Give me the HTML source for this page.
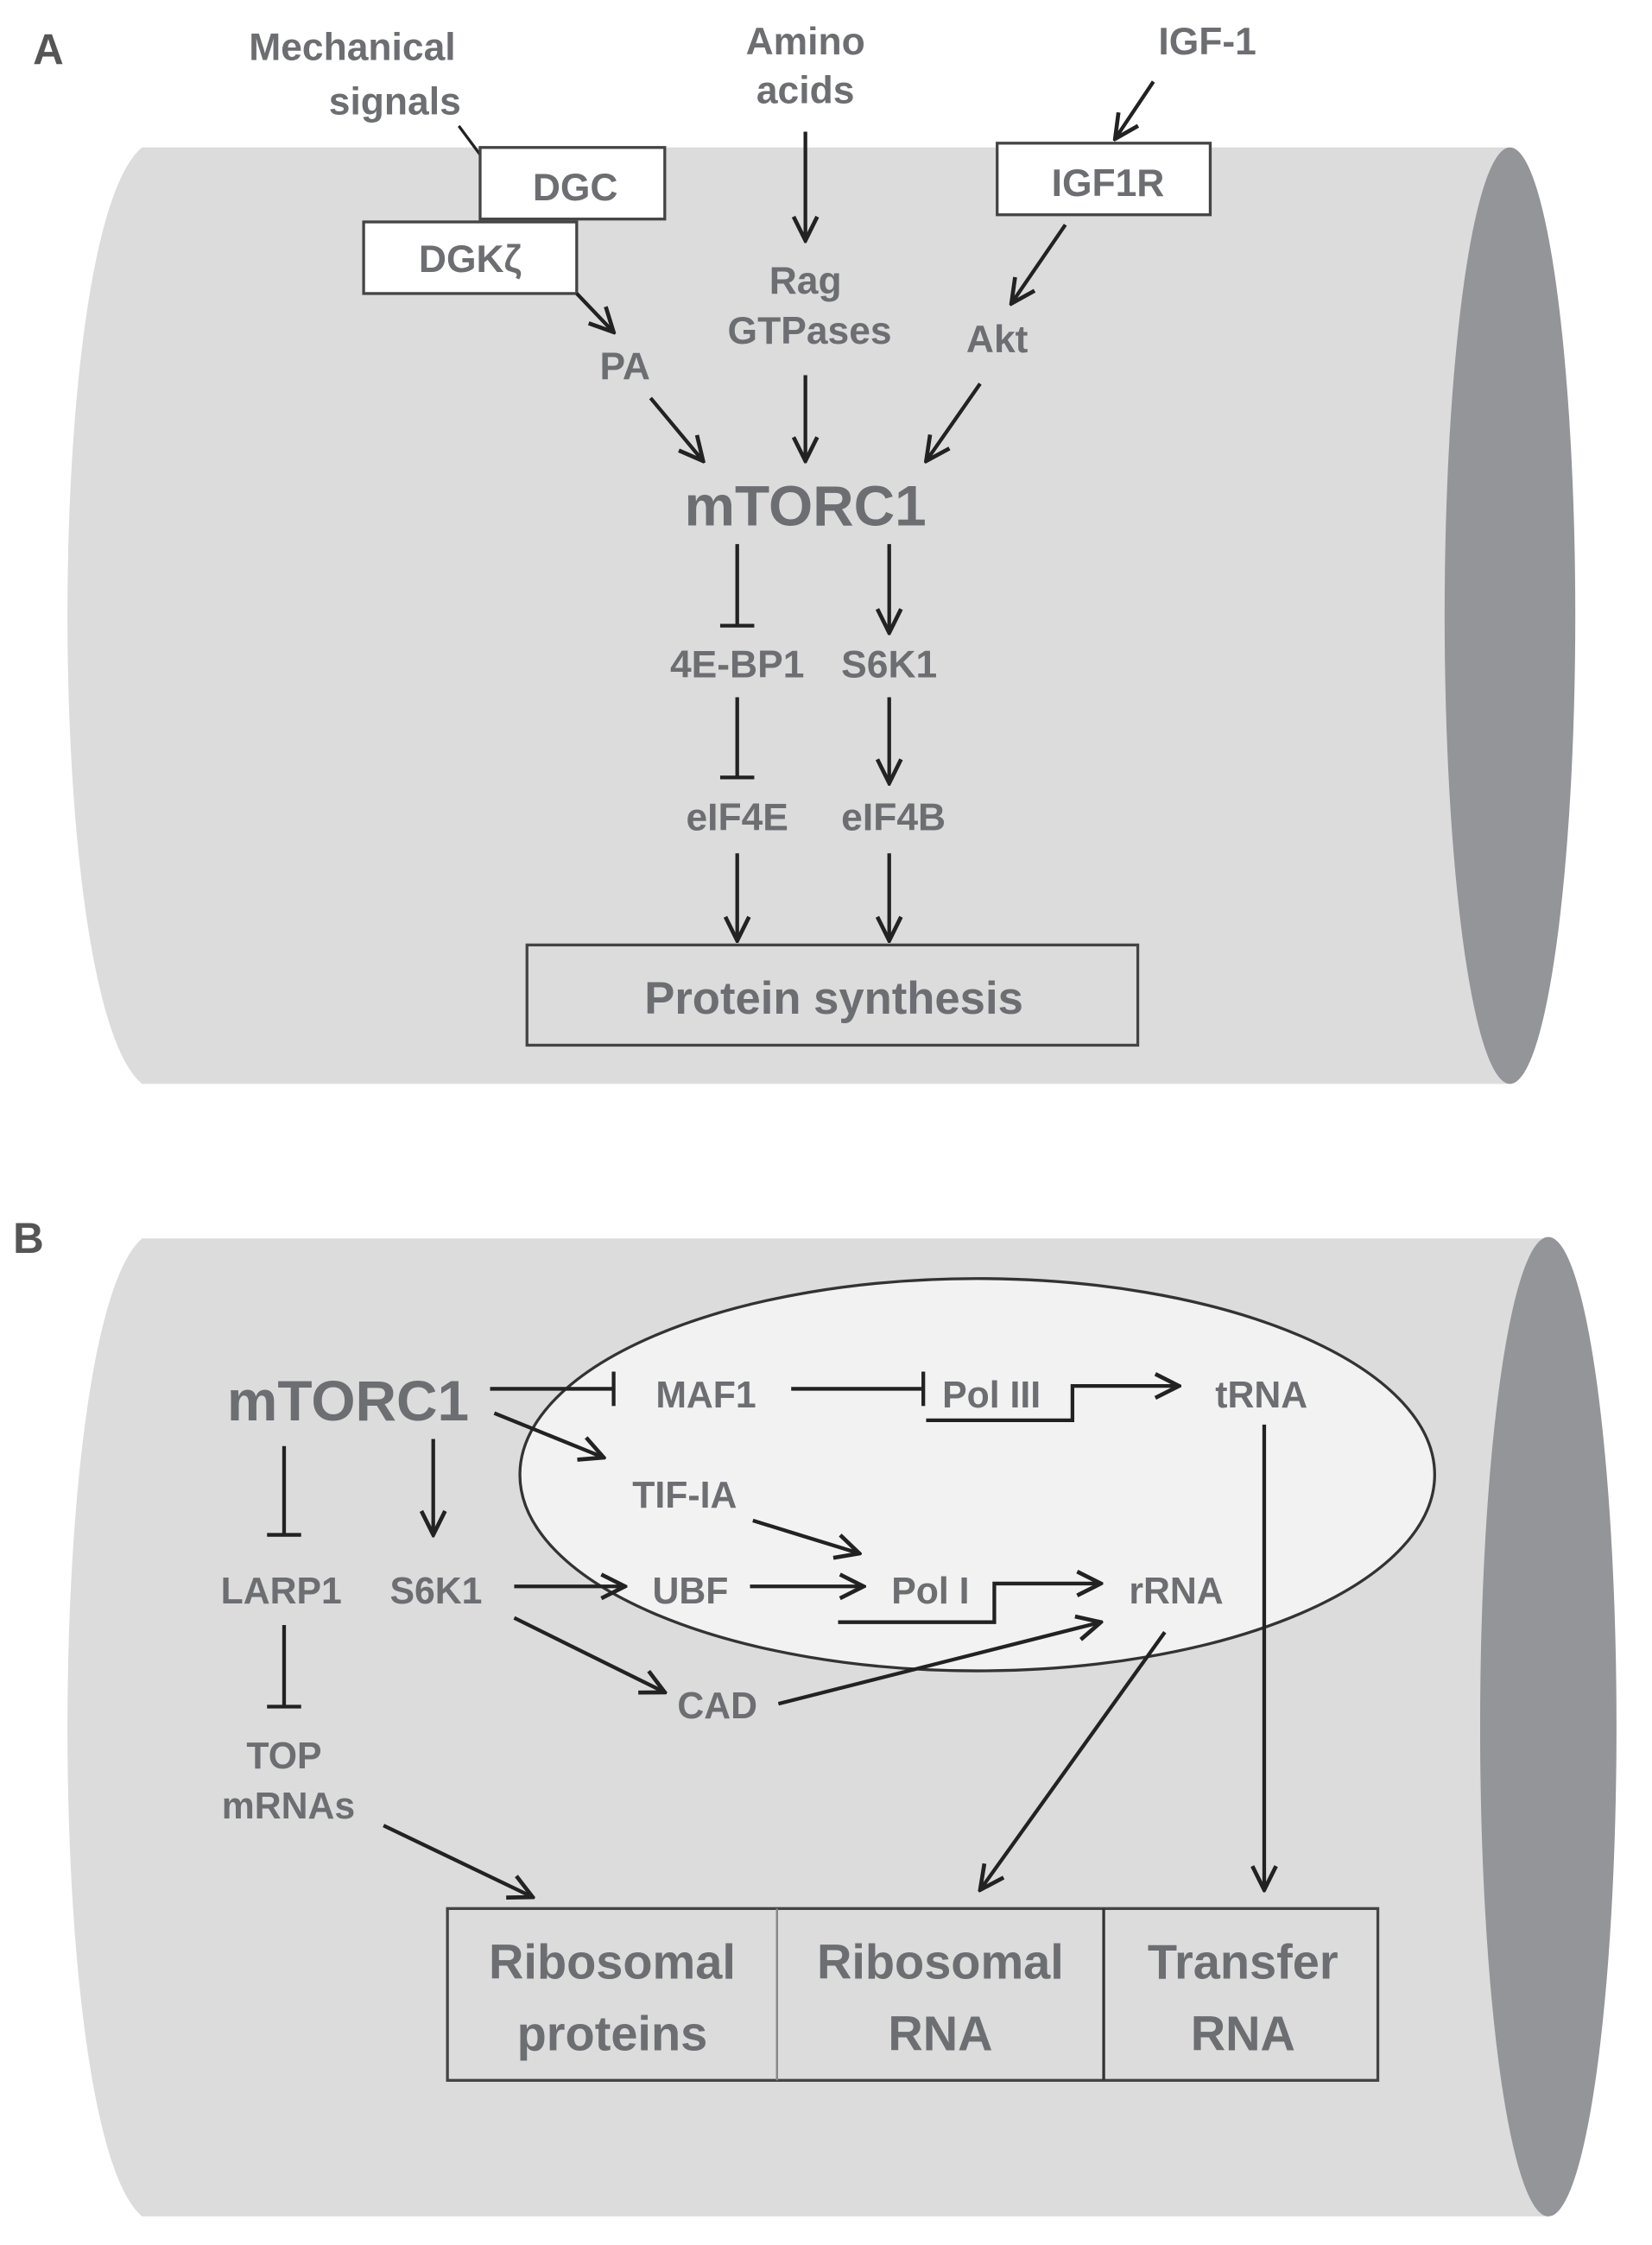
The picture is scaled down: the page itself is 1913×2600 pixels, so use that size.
<!DOCTYPE html>
<html><head><meta charset="utf-8"><style>
html,body{margin:0;padding:0;background:#fff;}
svg{display:block;}
text{font-family:"Liberation Sans Narrow","Liberation Sans",sans-serif;font-weight:bold;fill:#6d6e71;text-anchor:middle;}
</style></head><body>
<svg width="1913" height="2600" viewBox="0 0 1163 1568" preserveAspectRatio="none" xmlns="http://www.w3.org/2000/svg">
<defs>
<marker id="a2" viewBox="0 0 12 12" refX="11" refY="6" markerWidth="20" markerHeight="20" markerUnits="userSpaceOnUse" orient="auto">
<path d="M1,1 L11,6 L1,11" fill="none" stroke="#222" stroke-width="1.7"/>
</marker>
</defs>
<rect width="1163" height="1568" fill="#fff"/>
<g stroke="#222" stroke-width="2.6" fill="none">
<path d="M100,103 L1063,103 L1063,757 L100,757 C30,700 30,160 100,103 Z" fill="#dcdcdd" stroke="none"/>
<ellipse cx="1063" cy="430" rx="46" ry="327" fill="#939598" stroke="none"/>
<path d="M100,865 L1090,865 L1090,1548 L100,1548 C30,1490 30,925 100,865 Z" fill="#dcdcdd" stroke="none"/>
<ellipse cx="1090" cy="1206" rx="48" ry="342" fill="#939598" stroke="none"/>
<ellipse cx="688" cy="1030" rx="322" ry="137" fill="#f2f2f2" stroke="#333" stroke-width="2"/>

<line x1="323" y1="88" x2="338" y2="108" stroke-width="2"/>
<rect x="338" y="103" width="130" height="50" fill="#fff" stroke="#444" stroke-width="2"/>
<rect x="256" y="155" width="150" height="50" fill="#fff" stroke="#444" stroke-width="2"/>
<rect x="702" y="100" width="150" height="50" fill="#fff" stroke="#444" stroke-width="2"/>
<rect x="371" y="660" width="430" height="70" fill="#dcdcdd" stroke="#444" stroke-width="2"/>

<line x1="406" y1="205" x2="432" y2="232" marker-end="url(#a2)"/>
<line x1="567" y1="92" x2="567" y2="168" marker-end="url(#a2)"/>
<line x1="812" y1="57" x2="785" y2="97" marker-end="url(#a2)"/>
<line x1="750" y1="157" x2="712" y2="212" marker-end="url(#a2)"/>
<line x1="458" y1="278" x2="495" y2="322" marker-end="url(#a2)"/>
<line x1="567" y1="262" x2="567" y2="322" marker-end="url(#a2)"/>
<line x1="690" y1="268" x2="652" y2="322" marker-end="url(#a2)"/>
<line x1="519" y1="380" x2="519" y2="437"/><line x1="507" y1="437" x2="531" y2="437"/>
<line x1="626" y1="380" x2="626" y2="442" marker-end="url(#a2)"/>
<line x1="519" y1="487" x2="519" y2="543"/><line x1="507" y1="543" x2="531" y2="543"/>
<line x1="626" y1="487" x2="626" y2="547" marker-end="url(#a2)"/>
<line x1="519" y1="596" x2="519" y2="657" marker-end="url(#a2)"/>
<line x1="626" y1="596" x2="626" y2="657" marker-end="url(#a2)"/>

<line x1="345" y1="970" x2="432" y2="970"/><line x1="432" y1="958" x2="432" y2="982"/>
<line x1="557" y1="970" x2="650" y2="970"/><line x1="650" y1="958" x2="650" y2="982"/>
<polyline points="652,992 755,992 755,968 830,968" marker-end="url(#a2)"/>
<line x1="348" y1="987" x2="425" y2="1018" marker-end="url(#a2)"/>
<line x1="530" y1="1062" x2="605" y2="1085" marker-end="url(#a2)"/>
<line x1="305" y1="1005" x2="305" y2="1072" marker-end="url(#a2)"/>
<line x1="200" y1="1010" x2="200" y2="1072"/><line x1="188" y1="1072" x2="212" y2="1072"/>
<line x1="200" y1="1135" x2="200" y2="1192"/><line x1="188" y1="1192" x2="212" y2="1192"/>
<line x1="362" y1="1108" x2="440" y2="1108" marker-end="url(#a2)"/>
<line x1="528" y1="1108" x2="608" y2="1108" marker-end="url(#a2)"/>
<polyline points="590,1133 700,1133 700,1106 775,1106" marker-end="url(#a2)"/>
<line x1="362" y1="1130" x2="468" y2="1182" marker-end="url(#a2)"/>
<line x1="548" y1="1190" x2="775" y2="1133" marker-end="url(#a2)"/>
<line x1="820" y1="1140" x2="690" y2="1320" marker-end="url(#a2)"/>
<line x1="890" y1="995" x2="890" y2="1320" marker-end="url(#a2)"/>
<line x1="270" y1="1275" x2="375" y2="1325" marker-end="url(#a2)"/>

<rect x="315" y="1333" width="655" height="120" fill="#dcdcdd" stroke="#444" stroke-width="2"/>
<line x1="547" y1="1333" x2="547" y2="1453" stroke="#888" stroke-width="1.5"/>
<line x1="777" y1="1333" x2="777" y2="1453" stroke="#333" stroke-width="2"/>
</g>

<text x="34" y="45" font-size="30" style="fill:#555">A</text>
<text x="248" y="42" font-size="27">Mechanical</text>
<text x="278" y="80" font-size="27">signals</text>
<text x="567" y="38" font-size="27">Amino</text>
<text x="567" y="72" font-size="27">acids</text>
<text x="850" y="38" font-size="27">IGF-1</text>
<text x="405" y="140" font-size="27">DGC</text>
<text x="331" y="190" font-size="27">DGKζ</text>
<text x="780" y="137" font-size="27">IGF1R</text>
<text x="440" y="265" font-size="27">PA</text>
<text x="567" y="205" font-size="27">Rag</text>
<text x="570" y="240" font-size="27">GTPases</text>
<text x="702" y="246" font-size="27">Akt</text>
<text x="567" y="367" font-size="40">mTORC1</text>
<text x="519" y="473" font-size="27">4E-BP1</text>
<text x="626" y="473" font-size="27">S6K1</text>
<text x="519" y="580" font-size="27">eIF4E</text>
<text x="629" y="580" font-size="27">eIF4B</text>
<text x="587" y="708" font-size="32">Protein synthesis</text>

<text x="20" y="875" font-size="30" style="fill:#555">B</text>
<text x="245" y="992" font-size="40">mTORC1</text>
<text x="497" y="983" font-size="26">MAF1</text>
<text x="698" y="983" font-size="26">Pol III</text>
<text x="888" y="983" font-size="26">tRNA</text>
<text x="482" y="1053" font-size="26">TIF-IA</text>
<text x="198" y="1120" font-size="26">LARP1</text>
<text x="307" y="1120" font-size="26">S6K1</text>
<text x="486" y="1120" font-size="26">UBF</text>
<text x="655" y="1120" font-size="26">Pol I</text>
<text x="828" y="1120" font-size="26">rRNA</text>
<text x="505" y="1200" font-size="26">CAD</text>
<text x="200" y="1235" font-size="26">TOP</text>
<text x="203" y="1270" font-size="26">mRNAs</text>
<text x="431" y="1382" font-size="34">Ribosomal</text>
<text x="431" y="1432" font-size="34">proteins</text>
<text x="662" y="1382" font-size="34">Ribosomal</text>
<text x="662" y="1432" font-size="34">RNA</text>
<text x="875" y="1382" font-size="34">Transfer</text>
<text x="875" y="1432" font-size="34">RNA</text>
</svg>
</body></html>
